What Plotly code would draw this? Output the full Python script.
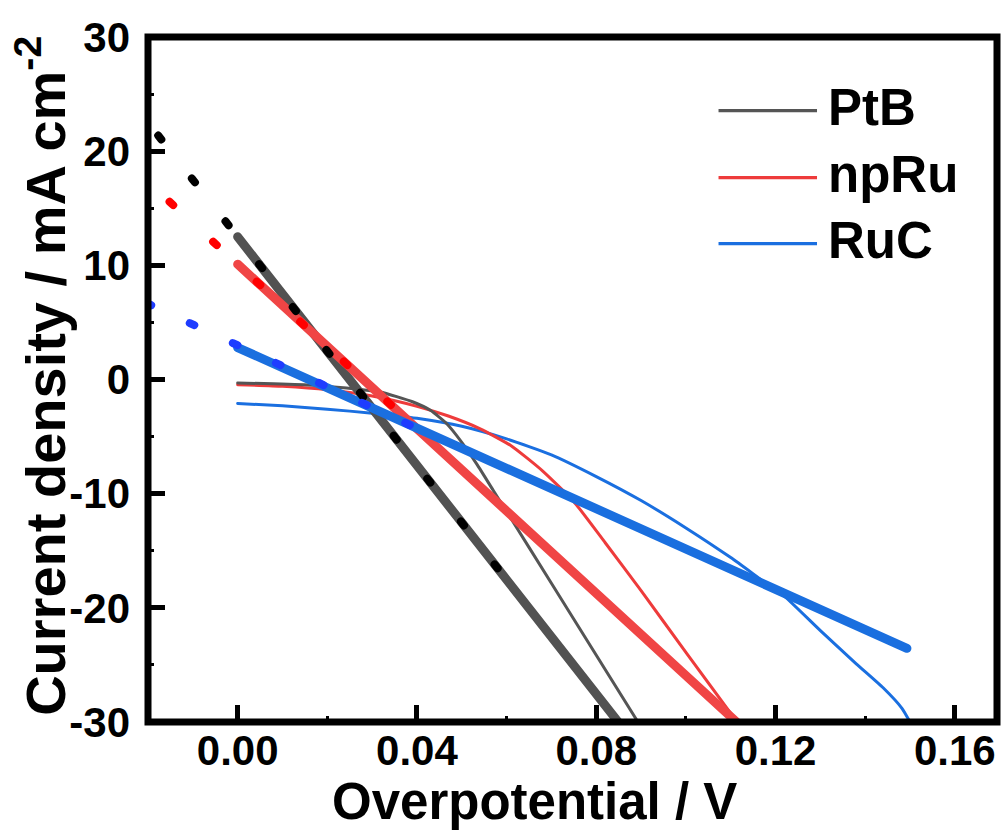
import plotly.graph_objects as go

# measured curves (overpotential / V, current density / mA cm-2)
pt_x = [0, 0.008, 0.0168, 0.0243, 0.0318, 0.039, 0.043, 0.0466, 0.050, 0.0535, 0.057, 0.065, 0.075, 0.0893]
pt_y = [-0.3, -0.38, -0.5, -0.75, -1.1, -1.95, -2.7, -3.85, -5.5, -7.5, -9.7, -14.7, -21.0, -30.0]

np_x = [0, 0.010, 0.020, 0.030, 0.040, 0.047, 0.054, 0.061, 0.068, 0.075, 0.082, 0.090, 0.100, 0.1114]
np_y = [-0.45, -0.6, -0.9, -1.45, -2.35, -3.2, -4.3, -5.8, -8.0, -10.7, -14.3, -18.5, -23.9, -30.0]

ru_x = [0, 0.010, 0.020, 0.030, 0.040, 0.050, 0.060, 0.070, 0.080, 0.090, 0.100, 0.110, 0.117, 0.122,
        0.130, 0.138, 0.144, 0.1482, 0.150]
ru_y = [-2.1, -2.3, -2.6, -2.95, -3.4, -4.1, -5.2, -6.6, -8.5, -10.6, -13.0, -15.6, -17.6, -19.0,
        -22.0, -24.9, -27.0, -28.8, -30.0]

# linear fits (thick) and their dotted extrapolations
pt_fit_x = [0, 0.0849]
pt_fit_y = [12.5, -30.0]
pt_ext_x = [-0.01772, 0.0584]
pt_ext_y = [21.37, -16.74]

np_fit_x = [0, 0.1113]
np_fit_y = [10.1, -30.0]
np_ext_x = [-0.01519, 0.0345]
np_ext_y = [15.57, -2.33]

ru_fit_x = [0, 0.1493]
ru_fit_y = [2.8, -23.55]
ru_ext_x = [-0.0203, 0.0387]
ru_ext_y = [6.69, -4.04]

series_names = ["PtB", "npRu", "RuC"]
thin_colors = ["#555555", "#ee3b3b", "#1a6fe0"]
fit_colors = ["#525252", "#f04545", "#1a6fdf"]
dot_colors = ["#000000", "#ff0000", "#1e3cff"]
dot_dash = ["5px,49.5px", "5px,54.1px", "5px,42.5px"]

x_ticks = [0, 0.04, 0.08, 0.12, 0.16]
y_ticks = [-30, -20, -10, 0, 10, 20, 30]

FONT = "Liberation Sans, Arial, sans-serif"

fig = go.Figure()

curves = [(pt_x, pt_y), (np_x, np_y), (ru_x, ru_y)]
fits = [(pt_fit_x, pt_fit_y), (np_fit_x, np_fit_y), (ru_fit_x, ru_fit_y)]
exts = [(pt_ext_x, pt_ext_y), (np_ext_x, np_ext_y), (ru_ext_x, ru_ext_y)]

# thin measured curves (blue, red, then gray on top)
for i in [2, 1, 0]:
    fig.add_trace(go.Scatter(x=curves[i][0], y=curves[i][1], mode="lines", name=series_names[i],
                             line=dict(color=thin_colors[i], width=3, shape="spline", smoothing=0.5),
                             showlegend=False))

# thick fits
for i in range(3):
    fig.add_trace(go.Scatter(x=fits[i][0], y=fits[i][1], mode="lines",
                             line=dict(color=fit_colors[i], width=9), showlegend=False))

# dotted extrapolations
for i in range(3):
    fig.add_trace(go.Scatter(x=exts[i][0], y=exts[i][1], mode="lines",
                             line=dict(color=dot_colors[i], width=8, dash=dot_dash[i]), showlegend=False))

# frame
fig.add_shape(type="rect", xref="paper", yref="paper", x0=0, x1=1, y0=0, y1=1,
              line=dict(color="black", width=7), layer="above")

# hand-made legend, long line samples
leg_y = [0.8926, 0.7948, 0.6985]
for i in range(3):
    fig.add_shape(type="line", xref="paper", yref="paper", x0=0.672, x1=0.788, y0=leg_y[i], y1=leg_y[i],
                  line=dict(color=thin_colors[i], width=3.3))
    fig.add_annotation(x=0.798, y=leg_y[i] + 0.005, xref="paper", yref="paper", text=series_names[i],
                       showarrow=False, xanchor="left", yanchor="middle",
                       font=dict(family=FONT, size=51, color="black", weight="bold"))

# axis titles
fig.add_annotation(x=0.4558, y=-0.116, xref="paper", yref="paper", text="Overpotential / V",
                   showarrow=False, xanchor="center", yanchor="middle",
                   font=dict(family=FONT, size=51, color="black", weight="bold"))
fig.add_annotation(x=-0.1255, y=0.506, xref="paper", yref="paper", text="Current density / mA cm<sup>-2</sup>",
                   showarrow=False, xanchor="center", yanchor="middle", textangle=-90,
                   font=dict(family=FONT, size=56, color="black", weight="bold"))

fig.update_xaxes(range=[-0.02, 0.1694], tickvals=x_ticks, ticktext=["%.2f" % v for v in x_ticks],
                 ticks="inside", ticklen=17, tickwidth=5, tickcolor="black",
                 minor=dict(dtick=0.02, tick0=0, ticks="inside", ticklen=6, tickwidth=3, tickcolor="black"),
                 showgrid=False, zeroline=False, showline=False, ticklabelstandoff=0,
                 tickfont=dict(family=FONT, size=42, color="black", weight="bold"))
fig.update_yaxes(range=[-30, 30], tickvals=y_ticks, ticktext=[str(v) for v in y_ticks],
                 ticks="inside", ticklen=17, tickwidth=5, tickcolor="black",
                 minor=dict(dtick=5, tick0=0, ticks="inside", ticklen=6, tickwidth=3, tickcolor="black"),
                 showgrid=False, zeroline=False, showline=False, ticklabelstandoff=17,
                 tickfont=dict(family=FONT, size=42, color="black", weight="bold"))

fig.update_layout(width=1003, height=833, margin=dict(l=148, r=6, t=37, b=111),
                  plot_bgcolor="white", paper_bgcolor="white", showlegend=False)

# no page margin; round line caps like the original export
js = """
document.body.style.margin = '0px';
document.body.style.overflow = 'hidden';
document.querySelectorAll('.scatterlayer path.js-line').forEach(function (p) {
    p.style.strokeLinecap = 'round';
});
"""
fig.write_html("out.html", post_script=js, config={"displayModeBar": False})
